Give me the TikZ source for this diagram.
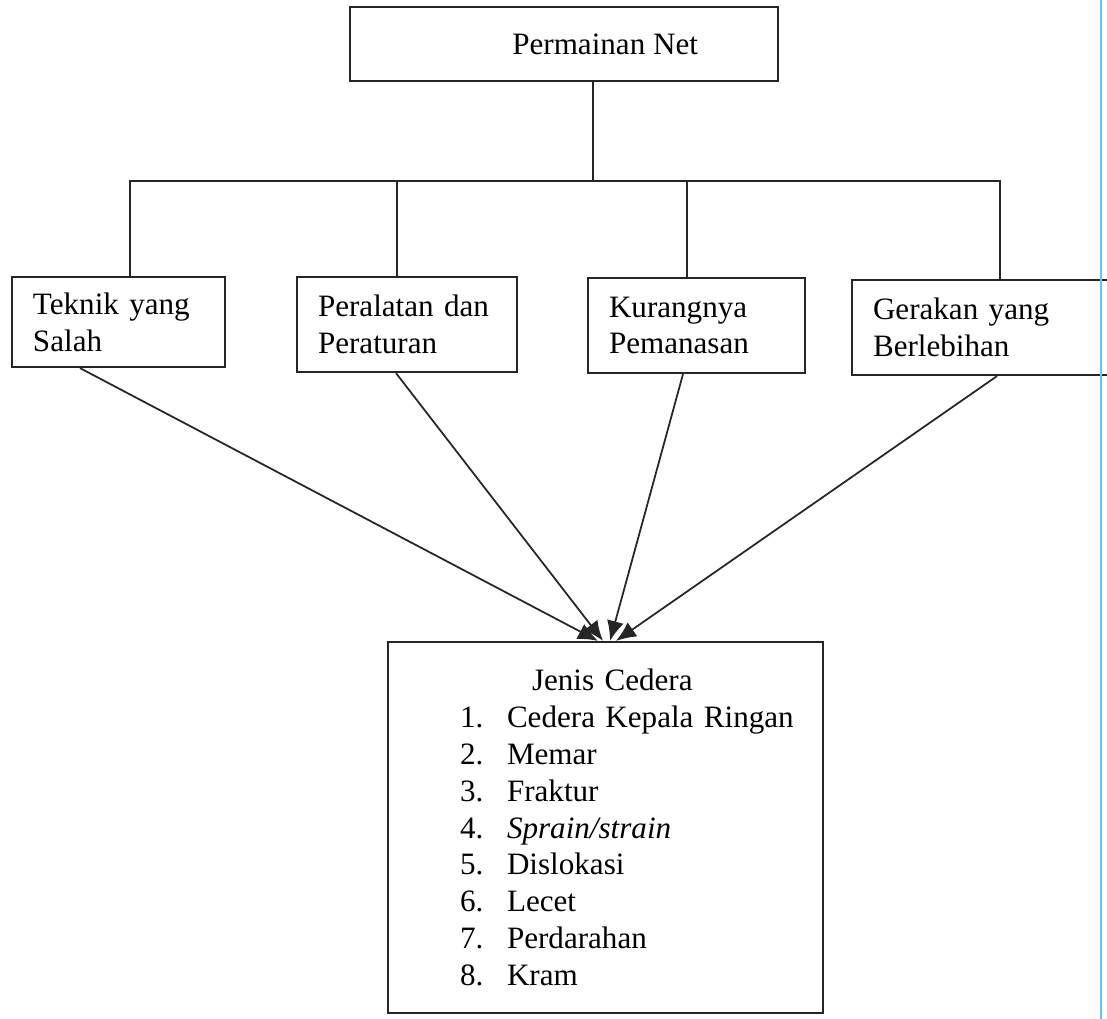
\documentclass[tikz,border=0pt]{standalone}
\usepackage{fontspec}
\setmainfont{Liberation Serif}
\usetikzlibrary{arrows.meta}

\newcommand\itm[2]{\hspace*{14.4mm}\makebox[9.4mm][l]{#1}#2}

\begin{document}
\begin{tikzpicture}[
  x=0.2mm, y=-0.2mm,
  font=\fontsize{17.7}{21}\selectfont,
  box/.style={rectangle, draw=black!85, line width=1.25pt, inner xsep=4.2mm, align=left},
  head/.style={box, minimum width=85.6mm, minimum height=14.8mm, inner xsep=16mm,
               text width=53.6mm, align=flush right},
  cause/.style={box, minimum height=19mm},
  list/.style={box, inner xsep=0pt, text width=87mm, minimum height=74.2mm},
  link/.style={draw=black!85, line width=1pt},
  hit/.style={link, -{Latex[length=4mm,width=3.4mm]}}
]
\useasboundingbox (0,0) rectangle (1107,1019);

\node[head] (net) at (564,44) {Permainan Net};

\node[cause, text width=34.2mm, minimum height=18mm] (f1) at (118.5,322) {Teknik yang\\ Salah};
\node[cause, text width=35.6mm] (f2) at (407,324.5) {Peralatan dan\\ Peraturan};
\node[cause, text width=35mm]   (f3) at (696.5,325.5) {Kurangnya\\ Pemanasan};
\node[cause, text width=45.2mm] (f4) at (986,327.5) {Gerakan yang\\ Berlebihan};

\node[list] (inj) at (605.5,827.5) {%
  \hspace*{28.8mm}Jenis Cedera\\
  \itm{1.}{Cedera Kepala Ringan}\\
  \itm{2.}{Memar}\\
  \itm{3.}{Fraktur}\\
  \itm{4.}{\textit{Sprain/strain}}\\
  \itm{5.}{Dislokasi}\\
  \itm{6.}{Lecet}\\
  \itm{7.}{Perdarahan}\\
  \itm{8.}{Kram}};

% tree from the top box
\coordinate (hub) at (593,181);
\draw[link] (hub |- net.south) -- (hub);
\draw[link] (130,0 |- f1.north) -- (130,181) -- (1000,181) -- (1000,0 |- f4.north);
\draw[link] (397,181) -- (397,0 |- f2.north);
\draw[link] (687,181) -- (687,0 |- f3.north);

% causes into the injury box
\draw[hit] (80,0 |- f1.south) -- (598,0 |- inj.north);
\draw[hit] (396,0 |- f2.south) -- (603,0 |- inj.north);
\draw[hit] (683,0 |- f3.south) -- (610,0 |- inj.north);
\draw[hit] (997,0 |- f4.south) -- (616,0 |- inj.north);

% scan edge
\draw[cyan!65, line width=1.3pt] (1101,0) -- (1101,1019);
\end{tikzpicture}
\end{document}
